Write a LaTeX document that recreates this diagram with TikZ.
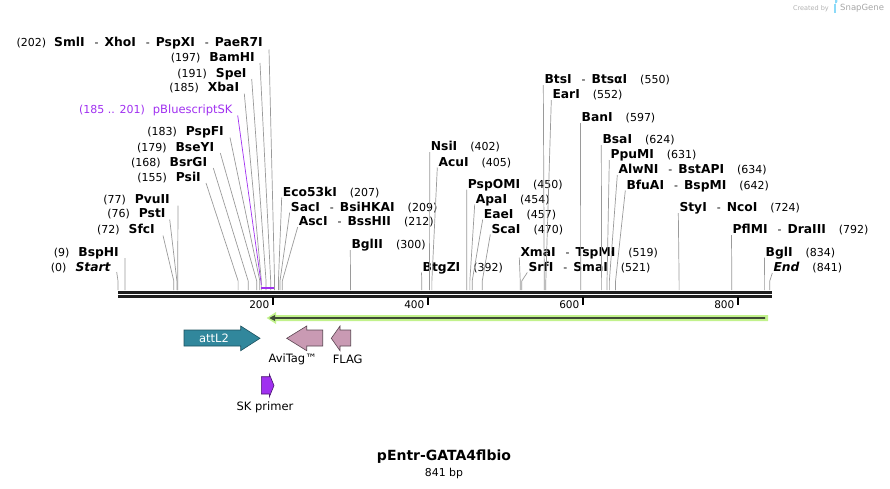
\documentclass[tikz,border=0pt]{standalone}
\usepackage{fontspec}
\setmainfont{DejaVu Sans}
\usepackage{xcolor}
\usetikzlibrary{positioning}

\definecolor{cutgray}{HTML}{9A9A9A}
\definecolor{skpurple}{HTML}{A030F0}
\definecolor{attlteal}{HTML}{31879C}
\definecolor{tagpink}{HTML}{C99AB3}
\definecolor{orfgreen}{HTML}{C2F28C}
\definecolor{orfdark}{HTML}{3F4A36}

\newcommand{\enz}[1]{{\fontsize{12.3}{14}\selectfont\bfseries #1}}
\newcommand{\enzsep}{\hspace{10pt}-\hspace{6pt}}

\tikzset{
  lbl/.style={inner sep=0pt, font=\fontsize{11}{12}\selectfont},
  feat/.style={inner sep=0pt, font=\fontsize{11.5}{13}\selectfont},
  cutline/.style={draw=cutgray, line width=0.7pt},
  tick/.style={line width=1.6pt, black},
}

\begin{document}
\begin{tikzpicture}[x=1pt, y=-1pt]
        \useasboundingbox (0,0) rectangle (890,488);

        % cut sites on the map
        \foreach \bp in {0,9,72,76,77,155,168,179,183,185,191,197,201,202,207,209,212,300,392,402,405,450,454,457,470,519,521,550,552,597,624,631,634,642,724,792,834,841}
          \coordinate (c\bp) at ({118+0.775*\bp},290);

        % labels left of the sites
        \node[lbl, anchor=base east] (l202) at (263,46.5) {(202)\hspace{8pt}\enz{SmlI}\enzsep\enz{XhoI}\enzsep\enz{PspXI}\enzsep\enz{PaeR7I}};
        \node[lbl, anchor=base east] (l197) at (255,61)   {(197)\hspace{9pt}\enz{BamHI}};
        \node[lbl, anchor=base east] (l191) at (246.7,77) {(191)\hspace{9pt}\enz{SpeI}};
        \node[lbl, anchor=base east] (l185) at (239.3,91.7) {(185)\hspace{9pt}\enz{XbaI}};
        \node[feat, anchor=base east, text=skpurple] (lpbs) at (232.7,113.5) {{\fontsize{11}{12}\selectfont(185 .. 201)}\hspace{8pt}pBluescriptSK};
        \node[lbl, anchor=base east] (l183) at (224,135.5)  {(183)\hspace{9pt}\enz{PspFI}};
        \node[lbl, anchor=base east] (l179) at (214.3,151)  {(179)\hspace{9pt}\enz{BseYI}};
        \node[lbl, anchor=base east] (l168) at (207.3,166)  {(168)\hspace{9pt}\enz{BsrGI}};
        \node[lbl, anchor=base east] (l155) at (201,181)    {(155)\hspace{9pt}\enz{PsiI}};
        \node[lbl, anchor=base east] (l77)  at (170,203.5)  {(77)\hspace{9pt}\enz{PvuII}};
        \node[lbl, anchor=base east] (l76)  at (165.7,217.5) {(76)\hspace{9pt}\enz{PstI}};
        \node[lbl, anchor=base east] (l72)  at (155,233.5)  {(72)\hspace{9pt}\enz{SfcI}};
        \node[lbl, anchor=base east] (l9)   at (119,256)    {(9)\hspace{9pt}\enz{BspHI}};
        \node[lbl, anchor=base east] (l0)   at (110.7,271)  {(0)\hspace{9pt}\enz{\itshape Start}};

        % labels right of the sites
        \node[lbl, anchor=base west] (l207) at (282.7,196)  {\enz{Eco53kI}\hspace{13pt}(207)};
        \node[lbl, anchor=base west] (l209) at (290.7,211)  {\enz{SacI}\enzsep\enz{BsiHKAI}\hspace{13pt}(209)};
        \node[lbl, anchor=base west] (l212) at (298.7,225.5) {\enz{AscI}\enzsep\enz{BssHII}\hspace{13pt}(212)};
        \node[lbl, anchor=base west] (l300) at (351.3,248.5) {\enz{BglII}\hspace{13pt}(300)};
        \node[lbl, anchor=base west] (l392) at (422.5,271)  {\enz{BtgZI}\hspace{13pt}(392)};
        \node[lbl, anchor=base west] (l402) at (430.7,150.5) {\enz{NsiI}\hspace{13pt}(402)};
        \node[lbl, anchor=base west] (l405) at (438.3,166)  {\enz{AcuI}\hspace{13pt}(405)};
        \node[lbl, anchor=base west] (l450) at (467.7,188)  {\enz{PspOMI}\hspace{13pt}(450)};
        \node[lbl, anchor=base west] (l454) at (475.7,203)  {\enz{ApaI}\hspace{13pt}(454)};
        \node[lbl, anchor=base west] (l457) at (483.7,218)  {\enz{EaeI}\hspace{13pt}(457)};
        \node[lbl, anchor=base west] (l470) at (491.3,233)  {\enz{ScaI}\hspace{13pt}(470)};
        \node[lbl, anchor=base west] (l519) at (520.3,256)  {\enz{XmaI}\enzsep\enz{TspMI}\hspace{13pt}(519)};
        \node[lbl, anchor=base west] (l521) at (528.3,271)  {\enz{SrfI}\enzsep\enz{SmaI}\hspace{13pt}(521)};
        \node[lbl, anchor=base west] (l550) at (544.3,83.5) {\enz{BtsI}\enzsep\enz{BtsαI}\hspace{13pt}(550)};
        \node[lbl, anchor=base west] (l552) at (552.3,98.5) {\enz{EarI}\hspace{13pt}(552)};
        \node[lbl, anchor=base west] (l597) at (581.5,121.5) {\enz{BanI}\hspace{13pt}(597)};
        \node[lbl, anchor=base west] (l624) at (602.3,143.5) {\enz{BsaI}\hspace{13pt}(624)};
        \node[lbl, anchor=base west] (l631) at (610.3,158.5) {\enz{PpuMI}\hspace{13pt}(631)};
        \node[lbl, anchor=base west] (l634) at (618.3,173.5) {\enz{AlwNI}\enzsep\enz{BstAPI}\hspace{13pt}(634)};
        \node[lbl, anchor=base west] (l642) at (626.3,189)  {\enz{BfuAI}\enzsep\enz{BspMI}\hspace{13pt}(642)};
        \node[lbl, anchor=base west] (l724) at (679.3,211.5) {\enz{StyI}\enzsep\enz{NcoI}\hspace{13pt}(724)};
        \node[lbl, anchor=base west] (l792) at (732.5,233.5) {\enz{PflMI}\enzsep\enz{DraIII}\hspace{13pt}(792)};
        \node[lbl, anchor=base west] (l834) at (765.5,256)  {\enz{BglI}\hspace{13pt}(834)};
        \node[lbl, anchor=base west] (l841) at (773.3,271.5) {\enz{\itshape End}\hspace{13pt}(841)};

        % connectors, left side
        \draw[cutline] (l202.base east) ++(6,3) -- ([yshift=9pt]c202) -- (c202);
        \draw[cutline] (l197.base east) ++(5,2) -- ([yshift=9pt]c197) -- (c197);
        \draw[cutline] (l191.base east) ++(5,2) -- ([yshift=9pt]c191) -- (c191);
        \draw[cutline] (l185.base east) ++(5,2) -- ([yshift=9pt]c185) -- (c185);
        \draw[skpurple, line width=0.7pt] (lpbs.base east) ++(5,2) -- ([yshift=5pt]c185);
        \draw[cutline] (l183.base east) ++(6,2) -- ([yshift=9pt]c183) -- (c183);
        \draw[cutline] (l179.base east) ++(6,2) -- ([yshift=9pt]c179) -- (c179);
        \draw[cutline] (l168.base east) ++(6,2) -- ([yshift=9pt]c168) -- (c168);
        \draw[cutline] (l155.base east) ++(5,2) -- ([yshift=9pt]c155) -- (c155);
        \draw[cutline] (l77.base east)  ++(8,2) -- ([yshift=9pt]c77) -- (c77);
        \draw[cutline] (l76.base east)  ++(4,2) -- ([yshift=9pt]c76) -- (c76);
        \draw[cutline] (l72.base east)  ++(8,2) -- ([yshift=9pt]c72) -- (c72);
        \draw[cutline] (l9.base east)   ++(6,2) -- ([yshift=9pt]c9) -- (c9);
        \draw[cutline] (l0.base east)   ++(6,1) -- ([yshift=9pt]c0) -- (c0);

        % connectors, right side
        \foreach \s in {207,209,212,300,392,402,405,450,454,457,470,519,521,550,552,597,624,631,634,642,724,792,834,841}
          \draw[cutline] (l\s.base west) ++(-1,1.5) -- ([yshift=9pt]c\s) -- (c\s);

        % pBluescriptSK span
        \draw[skpurple, line width=2pt] ([yshift=2pt]c185) -- ([yshift=2pt]c201);

        % backbone and ruler
        \draw[line width=3pt, black!88] (118,292.5) -- (772,292.5);
        \draw[line width=2.7pt, black!88] (118,296.3) -- (772,296.3);
        \foreach \t/\x in {200/273, 400/428, 600/583, 800/738} {
          \draw[tick] (\x,297) -- (\x,304.5);
          \node[lbl, font=\fontsize{10.5}{12}\selectfont, anchor=base east] (t\t) at (\x-3.5,308) {\t};
        }

        % GATA4 ORF (no label)
        \fill[orfgreen] (768,315) -- (276,315) -- (276,312) -- (266.7,318) -- (276,324) -- (276,321) -- (768,321) -- cycle;
        \fill[orfdark] (765,317.2) -- (275,317.2) -- (275,315) -- (269.3,318) -- (275,321) -- (275,318.8) -- (765,318.8) -- cycle;

        % features
        \filldraw[fill=attlteal, draw=attlteal!60!black, line width=0.6pt]
          (184,330) -- (240.7,330) -- (240.7,326) -- (260,338.3) -- (240.7,350.7) -- (240.7,346) -- (184,346) -- cycle;
        \node[feat, text=white] (attL2) at (214,338) {attL2};
        \filldraw[fill=tagpink, draw=tagpink!45!black, line width=0.6pt]
          (322.7,330) -- (306.7,330) -- (306.7,326) -- (286.7,338.3) -- (306.7,350.7) -- (306.7,346) -- (322.7,346) -- cycle;
        \node[feat] (avitag) at (292.7,359.5) {AviTag™};
        \filldraw[fill=tagpink, draw=tagpink!45!black, line width=0.6pt]
          (350.7,330) -- (340,330) -- (340,326) -- (331.3,338.3) -- (340,350.7) -- (340,346) -- (350.7,346) -- cycle;
        \node[feat] (flag) at (347.7,359.5) {FLAG};
        \filldraw[fill=skpurple, draw=skpurple!45!black, line width=0.6pt]
          (261.3,376.7) -- (269.3,376.7) -- (269.3,374) -- (274,385.5) -- (269.3,397) -- (269.3,394) -- (261.3,394) -- cycle;
        \node[feat] (skprimer) at (265,407) {SK primer};

        % title
        \node[font=\fontsize{14}{16}\selectfont\bfseries, inner sep=0pt] (title) at (444,457) {pEntr-GATA4flbio};
        \node[font=\fontsize{10.9}{12}\selectfont, inner sep=0pt, below=4pt of title] (size) {841 bp};

        % credit
        \node[font=\fontsize{6.5}{8}\selectfont, text=black!30, inner sep=0pt, anchor=base east] (created) at (829,10) {Created by};
        \fill[cyan!45] (833.5,3.5) rectangle (836,12.5);
        \fill[cyan!45] (835,3.5) arc (90:-90:2.5);
        \node[font=\fontsize{8.5}{10}\selectfont, text=black!35, inner sep=0pt, anchor=base west] (snapgene) at (840,10.5) {SnapGene};
\end{tikzpicture}
\end{document}
